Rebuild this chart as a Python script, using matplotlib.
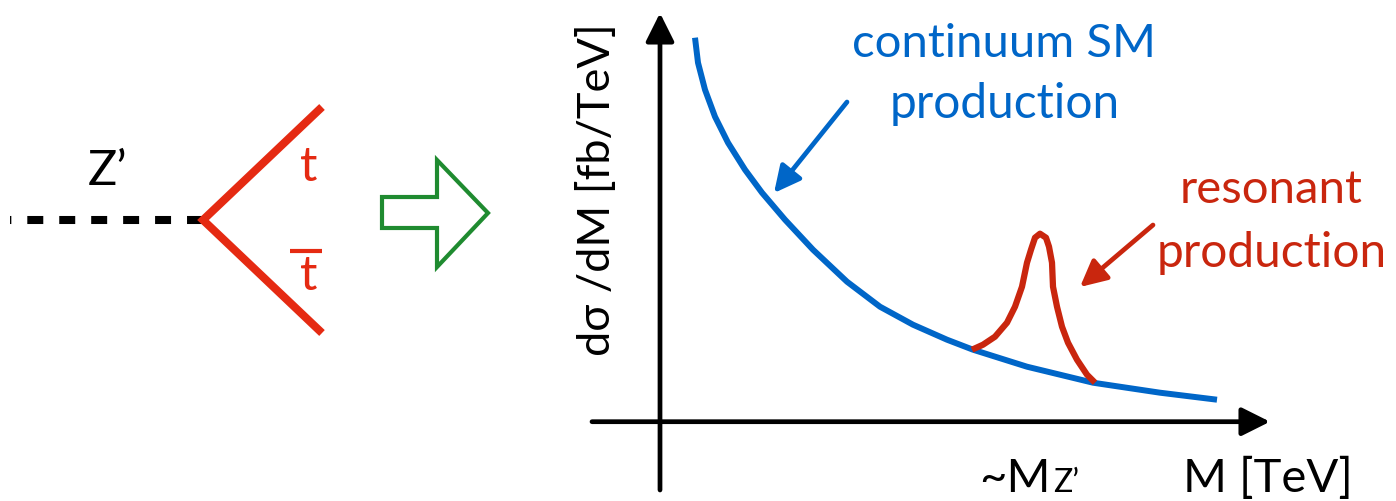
import matplotlib.pyplot as plt
from matplotlib.patches import Polygon

plt.rcParams["font.family"] = ["Lato", "DejaVu Sans"]
plt.rcParams["lines.scale_dashes"] = False

# Continuum SM spectrum, arbitrary units (mass, dsigma/dM)
m_cont = [0.35, 0.38, 0.45, 0.55, 0.68, 0.85, 1.02, 1.25, 1.53, 1.87,
          2.20, 2.53, 2.87, 3.13, 3.67, 4.33, 5.00, 5.57]
xs_cont = [3.84, 3.59, 3.32, 3.05, 2.79, 2.52, 2.29, 2.02, 1.72, 1.40,
           1.15, 0.97, 0.82, 0.72, 0.55, 0.39, 0.29, 0.22]

# Resonant Z' bump sitting on top of the continuum
m_res = [3.12, 3.23, 3.35, 3.47, 3.55, 3.62, 3.67, 3.71, 3.75, 3.80,
         3.86, 3.89, 3.92, 3.93, 3.97, 4.02, 4.08, 4.17, 4.27, 4.35]
xs_res = [0.72, 0.77, 0.85, 0.99, 1.15, 1.35, 1.59, 1.72, 1.84, 1.88,
          1.84, 1.75, 1.59, 1.35, 1.15, 0.95, 0.79, 0.62, 0.47, 0.39]

x_range = (-0.68, 6.10)
y_range = (-0.683, 4.087)

BLUE = "#0066C8"
RED_RES = "#C9260E"
RED_TOP = "#E52A12"
GREEN = "#1F8B30"

W, H = 1396, 501
fig = plt.figure(figsize=(W / 100, H / 100), dpi=100)

# --- spectrum panel -------------------------------------------------------
ax = fig.add_axes([592 / W, 11 / H, 678 / W, 477 / H])
ax.set_xlim(*x_range)
ax.set_ylim(*y_range)
ax.axis("off")

axis_arrow = dict(arrowstyle="-|>,head_length=0.4,head_width=0.2",
                  mutation_scale=43, lw=3.4, color="black",
                  shrinkA=0, shrinkB=0)
ax.annotate("", xy=(x_range[1], 0), xytext=(x_range[0], 0),
            arrowprops=axis_arrow, annotation_clip=False)
ax.annotate("", xy=(0, y_range[1]), xytext=(0, y_range[0]),
            arrowprops=axis_arrow, annotation_clip=False)

ax.plot(m_cont, xs_cont, color=BLUE, lw=4.3, solid_capstyle="butt",
        solid_joinstyle="round", zorder=3)
ax.plot(m_res, xs_res, color=RED_RES, lw=4.5, solid_capstyle="butt",
        solid_joinstyle="round", zorder=4)

# --- pixel canvas for the diagram and labels ------------------------------
cv = fig.add_axes([0, 0, 1, 1])
cv.set_xlim(0, W)
cv.set_ylim(H, 0)
cv.axis("off")
cv.patch.set_visible(False)

# Z' -> t tbar vertex
cv.plot([203, 10], [220, 220], color="black", lw=5.8,
        dashes=(11.5, 11.5), dash_capstyle="butt")
cv.plot([322, 203, 322], [107, 220, 333], color=RED_TOP, lw=5.8,
        solid_capstyle="butt", solid_joinstyle="miter")
cv.text(88, 185, "Z’", fontsize=35, color="black", va="baseline")
cv.text(300, 181, "t", fontsize=35, color=RED_TOP, va="baseline")
cv.text(300, 290, "t", fontsize=35, color=RED_TOP, va="baseline")
cv.plot([290, 322], [251, 251], color=RED_TOP, lw=3, solid_capstyle="butt")

# hollow "leads to" arrow
cv.add_patch(Polygon([(382, 197), (437, 197), (437, 160), (488, 213),
                      (437, 267), (437, 228), (382, 228)],
                     closed=True, fill=False, edgecolor=GREEN, lw=3,
                     joinstyle="miter"))

# axis titles
cv.text(597, 190, "dσ /dM [fb/TeV]", fontsize=32.5, rotation=90,
        ha="center", va="center")
cv.text(1183, 492, "M [TeV]", fontsize=34, va="baseline")
cv.text(1051, 492, "~M", fontsize=34, ha="right", va="baseline")
cv.text(1053, 492, "Z’", fontsize=23, va="baseline")

# callouts
cv.text(1004, 57, "continuum SM", fontsize=34, color=BLUE, ha="center",
        va="baseline")
cv.text(1005, 118, "production", fontsize=34.5, color=BLUE, ha="center",
        va="baseline")
cv.text(1271, 203, "resonant", fontsize=34, color=RED_RES, ha="center",
        va="baseline")
cv.text(1272, 267, "production", fontsize=34.5, color=RED_RES, ha="center",
        va="baseline")

callout = dict(arrowstyle="-|>,head_length=0.4,head_width=0.2",
               mutation_scale=40, lw=3.4, shrinkA=0, shrinkB=0)
cv.annotate("", xy=(774, 193), xytext=(847, 102),
            arrowprops=dict(callout, color=BLUE))
cv.annotate("", xy=(1080, 287), xytext=(1153, 225),
            arrowprops=dict(callout, color=RED_RES))

fig.savefig("out.png", dpi=100)
